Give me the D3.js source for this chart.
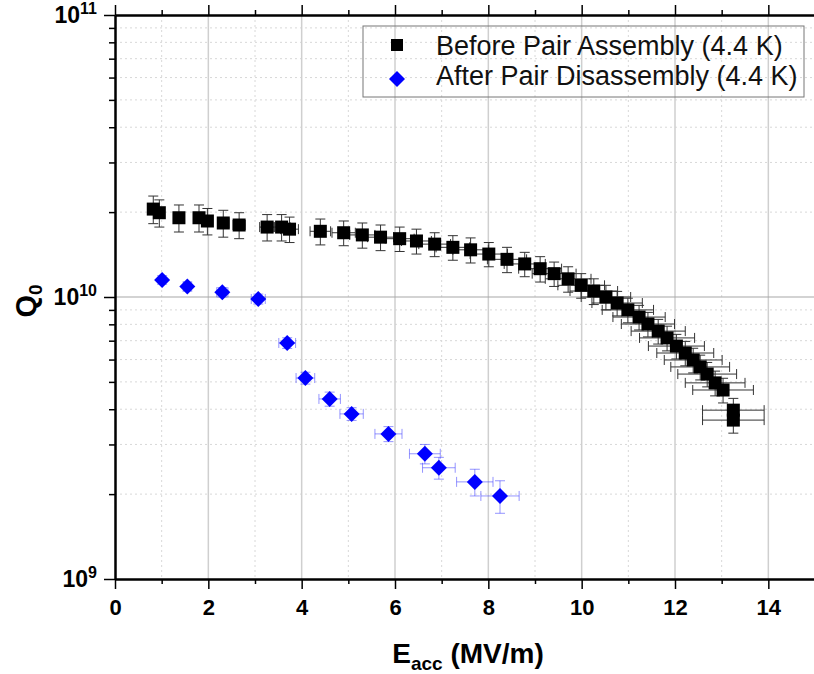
<!DOCTYPE html>
<html>
<head>
<meta charset="utf-8">
<script src="https://cdn.jsdelivr.net/npm/d3@7"></script>
<style>
  body { margin: 0; background: #fff; }
  svg { display: block; font-family: "Liberation Sans", Arial, sans-serif; }
</style>
</head>
<body>
<svg id="chart" width="814" height="674"></svg>
<script>
// Before pair assembly, 4.4 K  (E in MV/m, Q0 in 1e10)
const beforeE = [0.82, 0.95, 1.37, 1.80, 1.98, 2.32, 2.66, 3.26, 3.57, 3.74, 4.40, 4.90, 5.30, 5.69, 6.10,
  6.46, 6.85, 7.24, 7.62, 8.01, 8.40, 8.78, 9.11, 9.41, 9.71, 9.99, 10.26, 10.52, 10.76, 10.99,
  11.23, 11.42, 11.64, 11.83, 12.03, 12.22, 12.39, 12.54, 12.69, 12.86, 13.03, 13.25, 13.25];
const beforeQ = [2.05, 1.99, 1.91, 1.91, 1.86, 1.83, 1.80, 1.77, 1.77, 1.74, 1.71, 1.69, 1.66, 1.63, 1.61,
  1.58, 1.54, 1.50, 1.47, 1.42, 1.36, 1.31, 1.26, 1.21, 1.16, 1.10, 1.05, 1.00, 0.952, 0.900,
  0.849, 0.802, 0.757, 0.716, 0.670, 0.633, 0.598, 0.565, 0.533, 0.496, 0.468, 0.397, 0.366];
const beforeErrE = [0.04, 0.05, 0.07, 0.09, 0.10, 0.12, 0.13, 0.16, 0.18, 0.19, 0.22, 0.25, 0.27, 0.28, 0.31,
  0.32, 0.34, 0.36, 0.38, 0.40, 0.42, 0.44, 0.46, 0.47, 0.49, 0.50, 0.51, 0.53, 0.54, 0.55,
  0.56, 0.57, 0.58, 0.59, 0.60, 0.61, 0.62, 0.63, 0.63, 0.64, 0.65, 0.66, 0.66];
const beforeErrQ = [0.23, 0.22, 0.21, 0.21, 0.20, 0.20, 0.19, 0.19, 0.19, 0.18, 0.18, 0.17, 0.17, 0.17, 0.16,
  0.16, 0.15, 0.15, 0.15, 0.14, 0.14, 0.13, 0.13, 0.12, 0.12, 0.11, 0.11, 0.10, 0.095, 0.09,
  0.085, 0.08, 0.076, 0.072, 0.067, 0.063, 0.06, 0.057, 0.053, 0.05, 0.047, 0.04, 0.037];

// After pair disassembly, 4.4 K  (E in MV/m, Q0 in 1e9)
const afterE = [1.01, 1.55, 2.30, 3.07, 3.69, 4.08, 4.60, 5.07, 5.86, 6.64, 6.94, 7.71, 8.25];
const afterQ = [11.5, 10.9, 10.4, 9.84, 6.87, 5.16, 4.35, 3.85, 3.27, 2.78, 2.48, 2.21, 1.97];
const afterErrE = [0.05, 0.08, 0.12, 0.15, 0.18, 0.20, 0.23, 0.25, 0.29, 0.33, 0.35, 0.39, 0.41];
const afterErrQ = [0.4, 0.4, 0.4, 0.4, 0.3, 0.25, 0.25, 0.2, 0.2, 0.22, 0.22, 0.24, 0.26];

const xMajor = [0, 2, 4, 6, 8, 10, 12, 14];
const xMinor = [1, 3, 5, 7, 9, 11, 13];
const yMajor = [1e9, 1e10, 1e11];
const yMajorExp = ["9", "10", "11"];
const legendLabels = ["Before Pair Assembly (4.4 K)", "After Pair Disassembly (4.4 K)"];

const before = beforeE.map((e, i) => ({ e, q: beforeQ[i] * 1e10, de: beforeErrE[i], dq: beforeErrQ[i] * 1e10 }));
const after = afterE.map((e, i) => ({ e, q: afterQ[i] * 1e9, de: afterErrE[i], dq: afterErrQ[i] * 1e9 }));

const yMinor = [];
[1e9, 1e10].forEach(dec => { for (let k = 2; k <= 9; k++) yMinor.push(k * dec); });

const x = d3.scaleLinear().domain([0, 15]).range([115, 815]);
const y = d3.scaleLog().domain([1e9, 1e11]).range([579, 15]);

const svg = d3.select("#chart");

// grid
const grid = svg.append("g");
grid.selectAll(".gxm").data(xMinor).join("line")
  .attr("x1", d => x(d)).attr("x2", d => x(d)).attr("y1", 15).attr("y2", 579)
  .attr("stroke", "#d8d8d8").attr("stroke-dasharray", "2,3");
grid.selectAll(".gym").data(yMinor).join("line")
  .attr("x1", 115).attr("x2", 815).attr("y1", d => y(d)).attr("y2", d => y(d))
  .attr("stroke", "#d8d8d8").attr("stroke-dasharray", "2,3");
grid.selectAll(".gx").data(xMajor.slice(1)).join("line")
  .attr("x1", d => x(d)).attr("x2", d => x(d)).attr("y1", 15).attr("y2", 579)
  .attr("stroke", "#cfcfcf").attr("stroke-width", 1.5);
grid.append("line")
  .attr("x1", 115).attr("x2", 815).attr("y1", y(1e10)).attr("y2", y(1e10))
  .attr("stroke", "#a8a8a8").attr("stroke-width", 1.2);

// axes
function styleAxis(g) {
  g.select(".domain").attr("stroke", "#000").attr("stroke-width", 2);
  g.selectAll(".tick line").attr("stroke", "#000").attr("stroke-width", 1.5);
}

svg.append("g").attr("transform", "translate(0,579)")
  .call(d3.axisBottom(x).tickValues(xMinor).tickSize(5).tickSizeOuter(0).tickFormat(""))
  .call(styleAxis);
svg.append("g").attr("transform", "translate(0,579)")
  .call(d3.axisBottom(x).tickValues(xMajor).tickSize(10).tickSizeOuter(0).tickPadding(10))
  .call(styleAxis)
  .call(g => g.selectAll(".tick text").attr("font-size", 22).attr("font-weight", "bold")
    .attr("fill", "#000").attr("font-family", "'Liberation Sans', Arial, sans-serif"));

svg.append("g").attr("transform", "translate(0,15)")
  .call(d3.axisTop(x).tickValues(xMinor).tickSize(5).tickSizeOuter(0).tickFormat(""))
  .call(styleAxis);
svg.append("g").attr("transform", "translate(0,15)")
  .call(d3.axisTop(x).tickValues(xMajor).tickSize(10).tickSizeOuter(0).tickFormat(""))
  .call(styleAxis);

svg.append("g").attr("transform", "translate(115,0)")
  .call(d3.axisLeft(y).tickValues(yMinor).tickSize(6).tickSizeOuter(0).tickFormat(""))
  .call(styleAxis);
svg.append("g").attr("transform", "translate(115,0)")
  .call(d3.axisLeft(y).tickValues(yMajor).tickSize(11).tickSizeOuter(0).tickFormat(""))
  .call(styleAxis);

// y tick labels 10^n
const yLab = svg.append("g").selectAll("text").data(yMajor).join("text")
  .attr("x", 97).attr("y", d => y(d) + 8)
  .attr("text-anchor", "end").attr("font-weight", "bold");
yLab.append("tspan").attr("font-size", 23).text("10");
yLab.append("tspan").attr("font-size", 16).attr("dy", -9).text((d, i) => yMajorExp[i]);

// axis titles
const xt = svg.append("text").attr("x", 468).attr("y", 663)
  .attr("text-anchor", "middle").attr("font-weight", "bold").attr("font-size", 28);
xt.append("tspan").text("E");
xt.append("tspan").attr("font-size", 19).attr("dy", 7).text("acc");
xt.append("tspan").attr("dy", -7).text(" (MV/m)");

const yt = svg.append("text").attr("transform", "translate(36,301) rotate(-90)")
  .attr("text-anchor", "middle").attr("font-weight", "bold").attr("font-size", 29);
yt.append("tspan").text("Q");
yt.append("tspan").attr("font-size", 19).attr("dy", 6).text("0");

// error bars
function errorBars(data, color) {
  const g = svg.append("g").attr("stroke", color).attr("stroke-width", 1).attr("fill", "none");
  const cap = 5;
  data.forEach(d => {
    const cx = x(d.e), cy = y(d.q);
    const y0 = y(d.q - d.dq), y1 = y(d.q + d.dq);
    const x0 = x(d.e - d.de), x1 = x(d.e + d.de);
    g.append("line").attr("x1", cx).attr("x2", cx).attr("y1", y0).attr("y2", y1);
    g.append("line").attr("x1", cx - cap).attr("x2", cx + cap).attr("y1", y0).attr("y2", y0);
    g.append("line").attr("x1", cx - cap).attr("x2", cx + cap).attr("y1", y1).attr("y2", y1);
    g.append("line").attr("x1", x0).attr("x2", x1).attr("y1", cy).attr("y2", cy);
    g.append("line").attr("x1", x0).attr("x2", x0).attr("y1", cy - cap).attr("y2", cy + cap);
    g.append("line").attr("x1", x1).attr("x2", x1).attr("y1", cy - cap).attr("y2", cy + cap);
  });
}

errorBars(before, "#333");
errorBars(after, "rgba(60,60,255,0.55)");

const sq = 13;
svg.append("g").selectAll("rect").data(before).join("rect")
  .attr("x", d => x(d.e) - sq / 2).attr("y", d => y(d.q) - sq / 2)
  .attr("width", sq).attr("height", sq).attr("fill", "#000");

const diamond = r => `M0,${-r}L${r},0L0,${r}L${-r},0Z`;
svg.append("g").selectAll("path").data(after).join("path")
  .attr("transform", d => `translate(${x(d.e)},${y(d.q)})`)
  .attr("d", diamond(8)).attr("fill", "#0000ff");

// legend
const legend = svg.append("g");
legend.append("rect").attr("x", 363).attr("y", 26).attr("width", 441).attr("height", 71)
  .attr("fill", "none").attr("stroke", "#777").attr("stroke-width", 1);
legend.append("rect").attr("x", 397 - 6).attr("y", 45 - 6).attr("width", 12).attr("height", 12).attr("fill", "#000");
legend.append("path").attr("transform", "translate(397,79)").attr("d", diamond(8)).attr("fill", "#0000ff");
legend.selectAll("text.lab").data(legendLabels).join("text")
  .attr("x", 436).attr("y", (d, i) => 55 + i * 30)
  .attr("font-size", 27).attr("fill", "#111").text(d => d);
</script>
</body>
</html>
